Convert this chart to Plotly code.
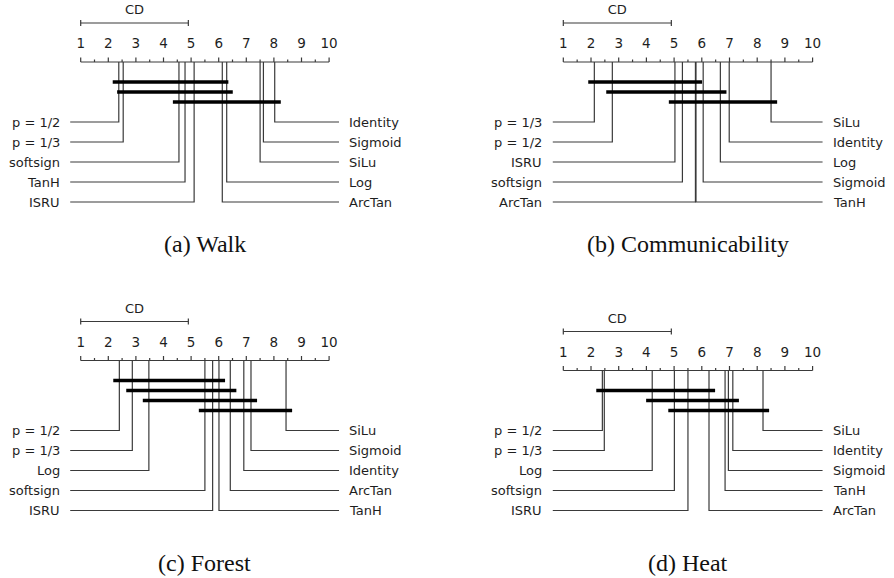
import plotly.graph_objects as go

# Average ranks of each activation per dataset (lower is better)
walk_names = ["p = 1/2", "p = 1/3", "softsign", "TanH", "ISRU",
              "ArcTan", "Log", "SiLu", "Sigmoid", "Identity"]
walk_ranks = [2.38, 2.54, 4.56, 4.78, 5.11, 6.13, 6.29, 7.50, 7.62, 8.03]
walk_cliques = [("p = 1/2", "ArcTan"), ("p = 1/3", "Log"), ("softsign", "Identity")]

comm_names = ["p = 1/3", "p = 1/2", "ISRU", "softsign", "ArcTan",
              "TanH", "Sigmoid", "Log", "Identity", "SiLu"]
comm_ranks = [2.12, 2.77, 5.03, 5.30, 5.77, 5.79, 6.05, 6.67, 6.99, 8.50]
comm_cliques = [("p = 1/3", "TanH"), ("p = 1/2", "Log"), ("ISRU", "SiLu")]

forest_names = ["p = 1/2", "p = 1/3", "Log", "softsign", "ISRU",
                "TanH", "ArcTan", "Identity", "Sigmoid", "SiLu"]
forest_ranks = [2.40, 2.87, 3.47, 5.50, 5.78, 6.01, 6.42, 6.91, 7.17, 8.44]
forest_cliques = [("p = 1/2", "TanH"), ("p = 1/3", "ArcTan"),
                  ("Log", "Sigmoid"), ("softsign", "SiLu")]

heat_names = ["p = 1/2", "p = 1/3", "Log", "softsign", "ISRU",
              "ArcTan", "TanH", "Sigmoid", "Identity", "SiLu"]
heat_ranks = [2.41, 2.48, 4.21, 5.01, 5.50, 6.26, 6.84, 6.96, 7.12, 8.21]
heat_cliques = [("p = 1/2", "ArcTan"), ("Log", "Identity"), ("softsign", "SiLu")]

captions = ["(a) Walk", "(b) Communicability", "(c) Forest", "(d) Heat"]
cd_value = 3.9
rank_ticks = list(range(1, 11))

# ---- drawing style ----
W, H = 894, 578
PANEL_H = H / 2
ROW_STEP = 20          # px between label rows
CLIQUE_STEP = 10       # px between clique bars
LINE_C = "#3a3a3a"
TEXT_C = "#1e1e1e"
SANS = "DejaVu Sans"
SERIF = "Liberation Serif"

panels = [
    dict(names=walk_names, ranks=walk_ranks, cliques=walk_cliques,
         xdom=[0, 0.5], ydom=[0.5, 1], xr=[-1.924, 14.272], rows_top=122, cap_y=244),
    dict(names=comm_names, ranks=comm_ranks, cliques=comm_cliques,
         xdom=[0.5, 1], ydom=[0.5, 1], xr=[-3.199, 12.939], rows_top=122, cap_y=244),
    dict(names=forest_names, ranks=forest_ranks, cliques=forest_cliques,
         xdom=[0, 0.5], ydom=[0, 0.5], xr=[-1.924, 14.272], rows_top=141.5, cap_y=274),
    dict(names=heat_names, ranks=heat_ranks, cliques=heat_cliques,
         xdom=[0.5, 1], ydom=[0, 0.5], xr=[-3.199, 12.939], rows_top=141.5, cap_y=274),
]

fig = go.Figure()
annotations = []
LINE_L, LINE_R = 0.62, 10.36   # ends of the label leader lines (rank units)
LABEL_GAP = 0.3

for k, p in enumerate(panels, start=1):
    xa = "x" if k == 1 else f"x{k}"
    ya = "y" if k == 1 else f"y{k}"
    n_cl = len(p["cliques"])
    rows_top = p["rows_top"]
    axis_y = rows_top - 20 - CLIQUE_STEP * (n_cl - 1) - 20

    xs, ys = [], []
    # rank axis with major and minor ticks
    xs += [rank_ticks[0], rank_ticks[-1], None]
    ys += [axis_y, axis_y, None]
    for t in rank_ticks:
        xs += [t, t, None]
        ys += [axis_y, axis_y - 4.5, None]
    for t in rank_ticks[:-1]:
        xs += [t + 0.5, t + 0.5, None]
        ys += [axis_y, axis_y - 2.5, None]

    # critical difference bar
    cd_y = axis_y - 39
    xs += [1, 1 + cd_value, None, 1, 1, None, 1 + cd_value, 1 + cd_value, None]
    ys += [cd_y, cd_y, None, cd_y - 3, cd_y + 3, None, cd_y - 3, cd_y + 3, None]

    # leader lines: best half on the left, worst half on the right
    order = sorted(range(len(p["ranks"])), key=lambda i: p["ranks"][i])
    half = len(order) // 2
    left = order[:half]
    right = order[half:][::-1]
    for row, i in enumerate(left):
        r = p["ranks"][i]
        yy = rows_top + row * ROW_STEP
        xs += [r, r, LINE_L, None]
        ys += [axis_y, yy, yy, None]
        annotations.append(dict(x=LINE_L - LABEL_GAP, y=yy, xref=xa, yref=ya,
                                text=p["names"][i], showarrow=False,
                                xanchor="right", yanchor="middle",
                                font=dict(family=SANS, size=13, color=TEXT_C)))
    for row, i in enumerate(right):
        r = p["ranks"][i]
        yy = rows_top + row * ROW_STEP
        xs += [r, r, LINE_R, None]
        ys += [axis_y, yy, yy, None]
        annotations.append(dict(x=LINE_R + LABEL_GAP, y=yy, xref=xa, yref=ya,
                                text=p["names"][i], showarrow=False,
                                xanchor="left", yanchor="middle",
                                font=dict(family=SANS, size=13, color=TEXT_C)))

    fig.add_trace(go.Scatter(x=xs, y=ys, mode="lines", xaxis=xa, yaxis=ya,
                             line=dict(color=LINE_C, width=1.2),
                             hoverinfo="skip"))

    # groups of methods with no significant difference
    bx, by = [], []
    ext = 0.22
    for j, (a, b) in enumerate(p["cliques"]):
        lo = p["ranks"][p["names"].index(a)]
        hi = p["ranks"][p["names"].index(b)]
        yy = axis_y + 20 + j * CLIQUE_STEP
        bx += [lo - ext, hi + ext, None]
        by += [yy, yy, None]
    fig.add_trace(go.Scatter(x=bx, y=by, mode="lines", xaxis=xa, yaxis=ya,
                             line=dict(color="black", width=3.4),
                             hoverinfo="skip"))

    # tick labels and CD caption
    fig.add_trace(go.Scatter(x=rank_ticks, y=[axis_y - 17] * len(rank_ticks),
                             mode="text", text=[str(t) for t in rank_ticks],
                             textposition="middle center", xaxis=xa, yaxis=ya,
                             textfont=dict(family=SANS, size=13.5, color=TEXT_C),
                             hoverinfo="skip"))
    fig.add_trace(go.Scatter(x=[1 + cd_value / 2], y=[axis_y - 51], mode="text",
                             text=["CD"], textposition="middle center",
                             xaxis=xa, yaxis=ya,
                             textfont=dict(family=SANS, size=13, color=TEXT_C),
                             hoverinfo="skip"))

    annotations.append(dict(x=5.5, y=p["cap_y"], xref=xa, yref=ya,
                            text=captions[k - 1], showarrow=False,
                            xanchor="center", yanchor="middle",
                            font=dict(family=SERIF, size=24, color="#111111")))

    fig.layout[f"xaxis{'' if k == 1 else k}"] = dict(
        domain=p["xdom"], range=p["xr"], visible=False, fixedrange=True, anchor=ya)
    fig.layout[f"yaxis{'' if k == 1 else k}"] = dict(
        domain=p["ydom"], range=[PANEL_H, 0], visible=False, fixedrange=True, anchor=xa)

fig.update_layout(width=W, height=H, margin=dict(l=0, r=0, t=0, b=0),
                  paper_bgcolor="white", plot_bgcolor="white",
                  showlegend=False, annotations=annotations)

fig.write_html("out.html")
